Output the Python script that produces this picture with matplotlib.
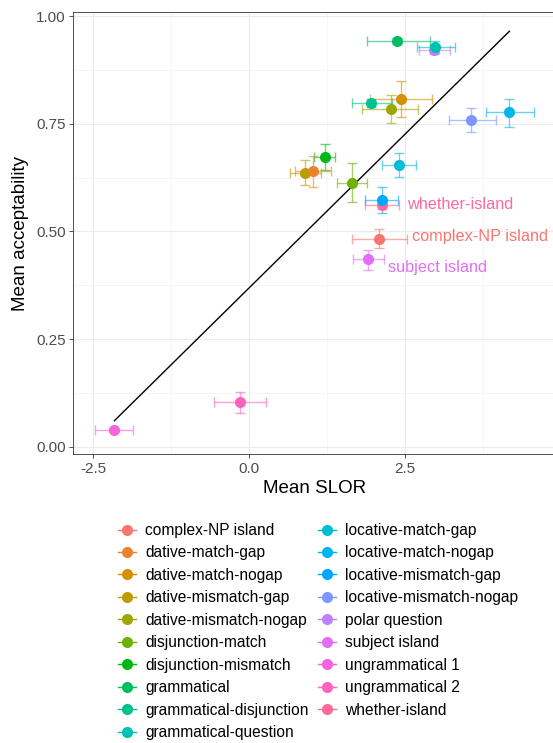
import numpy as np
import matplotlib
matplotlib.use("Agg")
import matplotlib.pyplot as plt
from matplotlib.lines import Line2D

plt.rcParams['font.family'] = ['Liberation Sans', 'DejaVu Sans']

conditions = ["complex-NP island", "dative-match-gap", "dative-match-nogap",
              "dative-mismatch-gap", "dative-mismatch-nogap", "disjunction-match",
              "disjunction-mismatch", "grammatical", "grammatical-disjunction",
              "grammatical-question", "locative-match-gap", "locative-match-nogap",
              "locative-mismatch-gap", "locative-mismatch-nogap", "polar question",
              "subject island", "ungrammatical 1", "ungrammatical 2", "whether-island"]

slor = [2.09, 1.03, 2.44, 0.90, 2.28, 1.65, 1.22, 2.38, 1.96, 2.98,
        2.41, 4.18, 2.13, 3.57, 2.97, 1.91, -2.16, -0.15, 2.14]
slor_lo = [1.66, 0.74, 1.94, 0.65, 1.82, 1.42, 1.05, 1.89, 1.65, 2.69,
           2.14, 3.81, 1.86, 3.21, 2.73, 1.67, -2.47, -0.57, 1.86]
slor_hi = [2.54, 1.31, 2.94, 1.16, 2.72, 1.90, 1.38, 2.90, 2.29, 3.30,
           2.68, 4.57, 2.39, 3.97, 3.22, 2.17, -1.86, 0.27, 2.40]
accept = [0.483, 0.639, 0.807, 0.636, 0.785, 0.613, 0.673, 0.942, 0.798, 0.927,
          0.654, 0.777, 0.573, 0.759, 0.922, 0.435, 0.038, 0.103, 0.561]
accept_lo = [0.461, 0.604, 0.765, 0.608, 0.752, 0.568, 0.643, 0.935, 0.788, 0.914,
             0.626, 0.743, 0.543, 0.730, 0.912, 0.411, 0.033, 0.078, 0.551]
accept_hi = [0.505, 0.675, 0.850, 0.666, 0.817, 0.658, 0.703, 0.949, 0.808, 0.941,
             0.683, 0.807, 0.604, 0.786, 0.932, 0.457, 0.043, 0.127, 0.571]

labelled = {"whether-island": (25, 1), "complex-NP island": (33, 2), "subject island": (20, -8)}


def hue_pal(n, l=65, c=100):
    # ggplot2 default hue palette (polar LUV -> sRGB)
    h = np.deg2rad(np.linspace(15, 375, n + 1)[:-1] % 360)
    u_, v_ = c * np.cos(h), c * np.sin(h)
    xn, yn, zn = 95.047, 100.0, 108.883
    un = 4 * xn / (xn + 15 * yn + 3 * zn)
    vn = 9 * yn / (xn + 15 * yn + 3 * zn)
    Y = yn * ((l + 16) / 116) ** 3
    u = u_ / (13 * l) + un
    v = v_ / (13 * l) + vn
    X = 9 * Y * u / (4 * v)
    Z = -X / 3 - 5 * Y + 3 * Y / v
    M = np.array([[3.240479, -1.537150, -0.498535],
                  [-0.969256, 1.875992, 0.041556],
                  [0.055648, -0.204043, 1.057311]])
    rgb = M @ np.vstack([X, Y * np.ones_like(X), Z]) / 100
    rgb = np.where(rgb <= 0.0031308, 12.92 * rgb, 1.055 * np.abs(rgb) ** (1 / 2.4) - 0.055)
    return [tuple(col) for col in np.clip(rgb, 0, 1).T]


colors = hue_pal(len(conditions))

fig = plt.figure(figsize=(5.53, 7.43), dpi=100)
ax = fig.add_axes([73.3 / 553, (743 - 454.3) / 743, 482.2 / 553, (454.3 - 12) / 743])

n = len(conditions)
for i in range(n):
    x, y = slor[i], accept[i]
    ax.errorbar(x, y,
                xerr=[[x - slor_lo[i]], [slor_hi[i] - x]],
                yerr=[[y - accept_lo[i]], [accept_hi[i] - y]],
                fmt='none', ecolor=colors[i], alpha=0.6, elinewidth=1.0,
                capsize=3.5, capthick=1.0, zorder=3 + (n - i) * 0.01)
for i in range(n):
    ax.plot(slor[i], accept[i], 'o', color=colors[i], markersize=8,
            markeredgewidth=0, zorder=5 + (n - i) * 0.01)
    if conditions[i] in labelled:
        dx, dy = labelled[conditions[i]]
        ax.annotate(conditions[i], (slor[i], accept[i]), xytext=(dx * 0.72, dy * 0.72),
                    textcoords='offset points', color=colors[i], fontsize=11.7,
                    va='center', ha='left', zorder=6)

slope, icpt = np.polyfit(slor, accept, 1)
xs = np.array([min(slor), max(slor)])
ax.plot(xs, icpt + slope * xs, color='black', lw=1.0, zorder=4)

ax.set_xlim(-2.821, 4.92)
ax.set_ylim(-0.0177, 1.0093)
ax.set_xticks([-2.5, 0, 2.5])
ax.set_xticklabels(["-2.5", "0.0", "2.5"])
ax.set_yticks([0, 0.25, 0.5, 0.75, 1.0])
ax.set_yticklabels(["0.00", "0.25", "0.50", "0.75", "1.00"])
ax.set_xticks([-1.25, 1.25, 3.75], minor=True)
ax.set_yticks([0.125, 0.375, 0.625, 0.875], minor=True)
ax.grid(which='major', color='#EBEBEB', lw=0.8)
ax.grid(which='minor', color='#F2F2F2', lw=0.5)
ax.set_axisbelow(True)
ax.tick_params(which='major', length=3, width=0.6, color='#333333',
               labelsize=11, labelcolor='#4D4D4D', pad=2.5)
ax.tick_params(which='minor', length=0)
for s in ax.spines.values():
    s.set_color('#333333')
    s.set_linewidth(0.6)
ax.set_xlabel("Mean SLOR", fontsize=13.5, labelpad=3)
ax.set_ylabel("Mean acceptability", fontsize=13.5, labelpad=5)

handles = [Line2D([0], [0], color=colors[i], marker='o', markersize=8, lw=1.0,
                  markeredgewidth=0) for i in range(n)]
fig.legend(handles, conditions, ncol=2, loc='upper left',
           bbox_to_anchor=(118 / 553, 1 - 523 / 743), frameon=False,
           fontsize=11.2, handlelength=1.15, handletextpad=0.6,
           columnspacing=0.6, labelspacing=0.48, borderaxespad=0, borderpad=0)

fig.savefig("out.png", dpi=100)
